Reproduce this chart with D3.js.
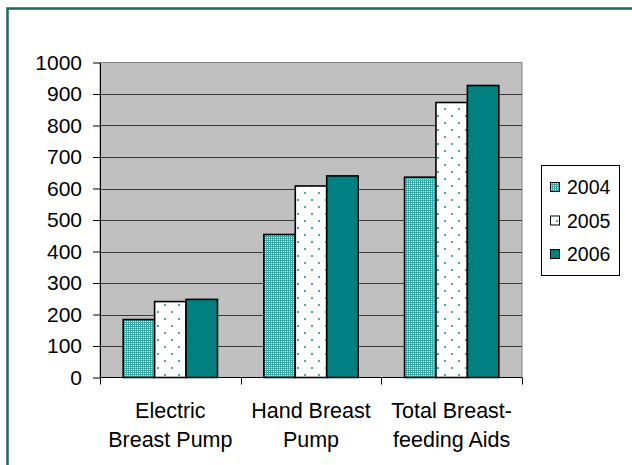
<!DOCTYPE html>
<html><head><meta charset="utf-8">
<script src="https://cdn.jsdelivr.net/npm/d3@7"></script>
<style>body{margin:0;background:#fff}svg{display:block}</style>
</head><body><div id="c"></div>
<script>
const categories = [["Electric","Breast Pump"],["Hand Breast","Pump"],["Total Breast-","feeding Aids"]];
const series = ["2004","2005","2006"];
const values2004 = [184, 454, 636];
const values2005 = [241, 608, 873];
const values2006 = [248, 640, 927];
const yTicks = [0,100,200,300,400,500,600,700,800,900,1000];

const W=632,H=465;
const FONT="Liberation Sans, Arial, sans-serif";
const svg=d3.select("#c").append("svg").attr("width",W).attr("height",H);
const defs=svg.append("defs");
const p1=defs.append("pattern").attr("id","p2004").attr("patternUnits","userSpaceOnUse").attr("width",2).attr("height",2);
p1.append("rect").attr("width",2).attr("height",2).attr("fill","#3aaaa8");
p1.append("rect").attr("x",1).attr("y",1).attr("width",1).attr("height",1).attr("fill","#d6eeee");
const p2=defs.append("pattern").attr("id","p2005").attr("patternUnits","userSpaceOnUse").attr("width",14).attr("height",14);
p2.append("rect").attr("width",14).attr("height",14).attr("fill","#fff");
p2.append("rect").attr("x",3).attr("y",3).attr("width",2).attr("height",2).attr("fill","#4aa8a6");
p2.append("rect").attr("x",10).attr("y",10).attr("width",2).attr("height",2).attr("fill","#4aa8a6");
const fills={"2004":"url(#p2004)","2005":"url(#p2005)","2006":"#008080"};

svg.append("rect").attr("x",7.5).attr("y",8.5).attr("width",W+20).attr("height",H+20)
  .attr("fill","none").attr("stroke","#1b6a5a").attr("stroke-width",2.5);

const m={l:100,r:522,t:62.5,b:377.5};
const x0=d3.scaleBand().domain(d3.range(categories.length)).range([m.l,m.r]).paddingInner(0).paddingOuter(0);
const x1=d3.scaleBand().domain(series).range([0,x0.bandwidth()]).paddingInner(0).paddingOuter(0.738);
const y=d3.scaleLinear().domain([0,1000]).range([m.b,m.t]);

svg.append("rect").attr("x",m.l).attr("y",m.t).attr("width",m.r-m.l).attr("height",m.b-m.t).attr("fill","#c0c0c0").attr("stroke","#808080");
const g=svg.append("g");
g.selectAll("line.grid").data(yTicks.slice(1,-1)).join("line").attr("class","grid")
  .attr("x1",m.l).attr("x2",m.r).attr("y1",d=>Math.round(y(d))+0.5).attr("y2",d=>Math.round(y(d))+0.5)
  .attr("stroke","#3a3a3a").attr("stroke-width",1);

const data=[values2004,values2005,values2006];
categories.forEach((c,i)=>{
  series.forEach((s,j)=>{
    const v=data[j][i];
    g.append("rect").attr("x",x0(i)+x1(s)).attr("y",y(v)).attr("width",x1.bandwidth()).attr("height",m.b-y(v))
     .attr("fill",fills[s]).attr("stroke","#000").attr("stroke-width",1.6);
  });
});

const ya=svg.append("g").attr("transform",`translate(${m.l},0)`)
  .call(d3.axisLeft(y).tickValues(yTicks).tickFormat(d3.format("d")).tickSize(7).tickPadding(11).tickSizeOuter(0));
ya.attr("font-family",FONT).attr("font-size",21);
ya.select(".domain").attr("stroke","#000");
ya.selectAll("line").attr("stroke","#000");
ya.selectAll("text").attr("fill","#000");

svg.append("line").attr("x1",m.l).attr("x2",m.r).attr("y1",m.b).attr("y2",m.b).attr("stroke","#000");
const xt=[0,1,2,3].map(i=>i<3?x0(i):m.r);
svg.selectAll("line.xt").data(xt).join("line").attr("class","xt").attr("x1",d=>Math.round(d)+0.5).attr("x2",d=>Math.round(d)+0.5)
  .attr("y1",m.b).attr("y2",m.b+7).attr("stroke","#000");
categories.forEach((c,i)=>{
  const t=svg.append("text").attr("text-anchor","middle").attr("font-family",FONT).attr("font-size",21.5).attr("fill","#000");
  c.forEach((ln,k)=>t.append("tspan").attr("x",x0(i)+x0.bandwidth()/2).attr("y",418+k*29).text(ln));
});

const lg=svg.append("g");
lg.append("rect").attr("x",541.5).attr("y",165.5).attr("width",78).attr("height",110).attr("fill","#fff").attr("stroke","#000");
series.forEach((s,j)=>{
  const yy=187+j*33.5;
  lg.append("rect").attr("x",550.5).attr("y",yy-4.5).attr("width",9).attr("height",9).attr("fill",fills[s]).attr("stroke","#000");
  lg.append("text").attr("x",567).attr("y",yy+7).attr("font-family",FONT).attr("font-size",19.5).attr("fill","#000").text(s);
});
</script></body></html>
